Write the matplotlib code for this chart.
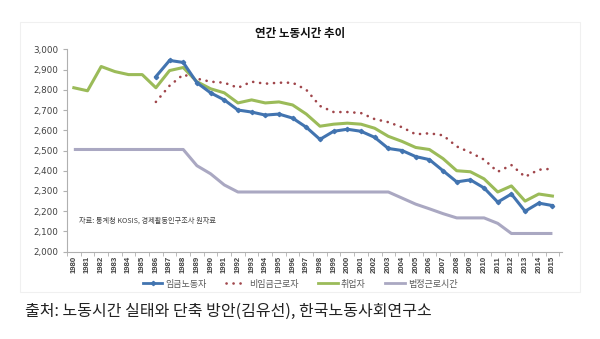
import numpy as np
import matplotlib.pyplot as plt
from matplotlib.lines import Line2D
from matplotlib.patches import Rectangle

plt.rcParams['font.family'] = ['Noto Sans CJK KR', 'DejaVu Sans']

# Data
years = list(range(1980, 2016))
wage_years = list(range(1986, 2016))
wage = [2865, 2945, 2935, 2835, 2785, 2750, 2700, 2690, 2675, 2680,
        2660, 2615, 2555, 2595, 2605, 2595, 2565, 2510, 2500, 2470,
        2455, 2400, 2345, 2355, 2315, 2245, 2285, 2200, 2240, 2228]
nonwage = [2740, 2820, 2875, 2855, 2840, 2835, 2810, 2840, 2830, 2835,
           2835, 2800, 2720, 2690, 2690, 2685, 2655, 2640, 2615, 2580,
           2585, 2575, 2520, 2490, 2455, 2395, 2428, 2370, 2405, 2410]
employed = [2810, 2795, 2915, 2890, 2875, 2875, 2810, 2895, 2910, 2840,
            2805, 2785, 2735, 2750, 2735, 2740, 2725, 2680, 2620, 2630,
            2635, 2630, 2610, 2570, 2545, 2515, 2505, 2460, 2400, 2395,
            2360, 2295, 2325, 2250, 2285, 2275]
legal = [2505, 2505, 2505, 2505, 2505, 2505, 2505, 2505, 2505, 2425,
         2385, 2330, 2295, 2295, 2295, 2295, 2295, 2295, 2295, 2295,
         2295, 2295, 2295, 2295, 2265, 2235, 2212, 2188, 2167, 2167,
         2167, 2140, 2090, 2090, 2090, 2090]

labels = ['임금노동자', '비임금근로자', '취업자', '법정근로시간']
yticks = list(range(2000, 3001, 100))

BLUE = '#4274b0'
RED = '#a0464b'
GREEN = '#9bbb59'
LAVENDER = '#aaa8c2'
TXT = '#404040'
DOTS = (0, (0.05, 2.6))

fig = plt.figure(figsize=(6.0, 3.39), dpi=100)
ax = fig.add_axes([67 / 600, 1 - 251.7 / 339, (562 - 67) / 600, (251.7 - 49.3) / 339])

ax.plot(years, legal, color=LAVENDER, lw=2.2, solid_capstyle='butt')
ax.plot(years, employed, color=GREEN, lw=2.2)
ax.plot(wage_years, nonwage, color=RED, lw=1.9, ls=DOTS, dash_capstyle='round')
ax.plot(wage_years, wage, color=BLUE, lw=2.2, marker='D', ms=2.2)

ax.set_xlim(1979.5, 2015.7)
ax.set_ylim(2000, 3000)
ax.set_yticks(yticks)
ax.set_yticklabels([f'{v:,}' for v in yticks], fontsize=6.3, color=TXT,
                   family=['DejaVu Sans'])
ax.set_xticks(years)
ax.set_xticklabels([str(y) for y in years], rotation=90, fontsize=5.6,
                   color=TXT, fontweight='bold',
                   family=['Liberation Sans Narrow', 'Liberation Sans', 'DejaVu Sans'])
ax.set_xticks(np.arange(1979.5, 2016, 1), minor=True)
ax.tick_params(axis='x', which='major', length=0, pad=3)
ax.tick_params(axis='x', which='minor', length=3, color='#b0b0b0')
ax.tick_params(axis='y', length=3, color='#b0b0b0', pad=3)
for s in ['top', 'right']:
    ax.spines[s].set_visible(False)
ax.spines['left'].set_color('#b0b0b0')
ax.spines['bottom'].set_color('#b0b0b0')

fig.text(0.5, 1 - 33 / 339, '연간 노동시간 추이', ha='center', va='center',
         fontsize=8.3, fontweight='bold', color='#111111')
ax.text(1980.4, 2155, '자료: 통계청 KOSIS, 경제활동인구조사 원자료', fontsize=5.2,
        color=TXT, va='center')

handles = [
    Line2D([], [], color=BLUE, lw=2, marker='D', ms=2.2),
    Line2D([], [], color=RED, lw=1.9, ls=DOTS, dash_capstyle='round'),
    Line2D([], [], color=GREEN, lw=2),
    Line2D([], [], color=LAVENDER, lw=2),
]
fig.legend(handles, labels, loc='center', bbox_to_anchor=(0.5, 1 - 284 / 339),
           ncol=4, frameon=False, fontsize=6.5, handlelength=2.2,
           handletextpad=0.3, columnspacing=2.2, labelcolor='#595959')

# faint chart frame
fig.patches.append(Rectangle((20 / 600, 1 - 292 / 339), 560 / 600, 270 / 339,
                             transform=fig.transFigure, fill=False,
                             edgecolor='#f0f0f0', lw=0.8))

fig.text(25 / 600, 1 - 311 / 339,
         '출처: 노동시간 실태와 단축 방안(김유선), 한국노동사회연구소',
         fontsize=11.5, color='#222222', va='center', ha='left')

fig.savefig('out.png', dpi=100)
